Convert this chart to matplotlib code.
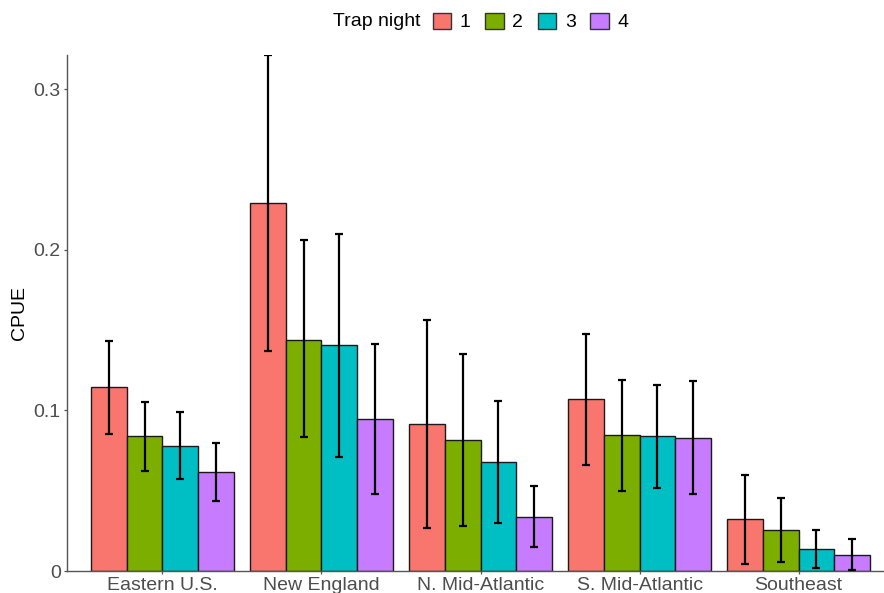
import numpy as np
import matplotlib
matplotlib.use("Agg")
import matplotlib.pyplot as plt
from matplotlib.patches import Patch

# ── Data ──────────────────────────────────────────────────────
regions = ["Eastern U.S.", "New England", "N. Mid-Atlantic",
           "S. Mid-Atlantic", "Southeast"]
nights = ["1", "2", "3", "4"]

# mean CPUE per region (rows) and trap night (cols)
cpue = [
    [0.1146, 0.0840, 0.0780, 0.0616],
    [0.2290, 0.1437, 0.1406, 0.0946],
    [0.0915, 0.0815, 0.0678, 0.0336],
    [0.1070, 0.0846, 0.0840, 0.0828],
    [0.0324, 0.0253, 0.0137, 0.0102],
]
err_lo = [
    [0.0850, 0.0624, 0.0570, 0.0437],
    [0.1370, 0.0834, 0.0710, 0.0480],
    [0.0268, 0.0280, 0.0300, 0.0150],
    [0.0660, 0.0498, 0.0518, 0.0477],
    [0.0044, 0.0056, 0.0020, 0.0006],
]
err_hi = [
    [0.1430, 0.1050, 0.0990, 0.0797],
    [0.3210, 0.2060, 0.2100, 0.1410],
    [0.1560, 0.1350, 0.1060, 0.0530],
    [0.1475, 0.1190, 0.1160, 0.1180],
    [0.0595, 0.0456, 0.0253, 0.0197],
]

colors = ["#F8766D", "#7CAE00", "#00BFC4", "#C77CFF"]

plt.rcParams["font.family"] = ["Liberation Sans", "DejaVu Sans"]
FS = 14

fig = plt.figure(figsize=(8.84, 5.93), dpi=100)
ax = fig.add_axes([67 / 884, 22 / 593, (894 - 67) / 884, (571 - 55) / 593])

cpue = np.array(cpue)
lo = np.array(err_lo)
hi = np.array(err_hi)
x = np.arange(1, len(regions) + 1)
bw = 0.9 / len(nights)

for j, n in enumerate(nights):
    xs = x - 0.45 + bw * (j + 0.5)
    ax.bar(xs, cpue[:, j], width=bw, color=colors[j],
           edgecolor="#1a1a1a", linewidth=1.0, zorder=2)
    ax.errorbar(xs, cpue[:, j],
                yerr=[cpue[:, j] - lo[:, j], hi[:, j] - cpue[:, j]],
                fmt="none", ecolor="black", elinewidth=1.6,
                capsize=3, capthick=1.6, zorder=3)

ax.set_xlim(0.4, 5.6)
ax.set_ylim(0, 0.3212)
ax.set_xticks(x)
ax.set_xticklabels(regions)
ax.set_yticks([0, 0.1, 0.2, 0.3])
ax.set_yticklabels(["0", "0.1", "0.2", "0.3"])
ax.tick_params(axis="both", labelsize=FS, colors="#555555",
               labelcolor="#4D4D4D", length=2.5, width=0.9)
ax.tick_params(axis="x", pad=1.5)
ax.tick_params(axis="y", pad=2)
ax.set_ylabel("CPUE", fontsize=FS, color="black", labelpad=4)

for side in ["top", "right"]:
    ax.spines[side].set_visible(False)
for side in ["left", "bottom"]:
    ax.spines[side].set_color("#555555")
    ax.spines[side].set_linewidth(1.0)

# ── Legend on top, title to the left ──
fig.text(333 / 884, 1 - 22 / 593, "Trap night", fontsize=FS,
         ha="left", va="center")
handles = [Patch(facecolor=c, edgecolor="#333333", linewidth=1.0)
           for c in colors]
fig.legend(handles, nights, loc="center left",
           bbox_to_anchor=(433 / 884, 1 - 22 / 593), ncol=4,
           frameon=False, fontsize=FS, handlelength=0.93, handleheight=0.93,
           handletextpad=0.45, columnspacing=0.76, borderpad=0,
           borderaxespad=0)

fig.savefig("out.png", dpi=100)
